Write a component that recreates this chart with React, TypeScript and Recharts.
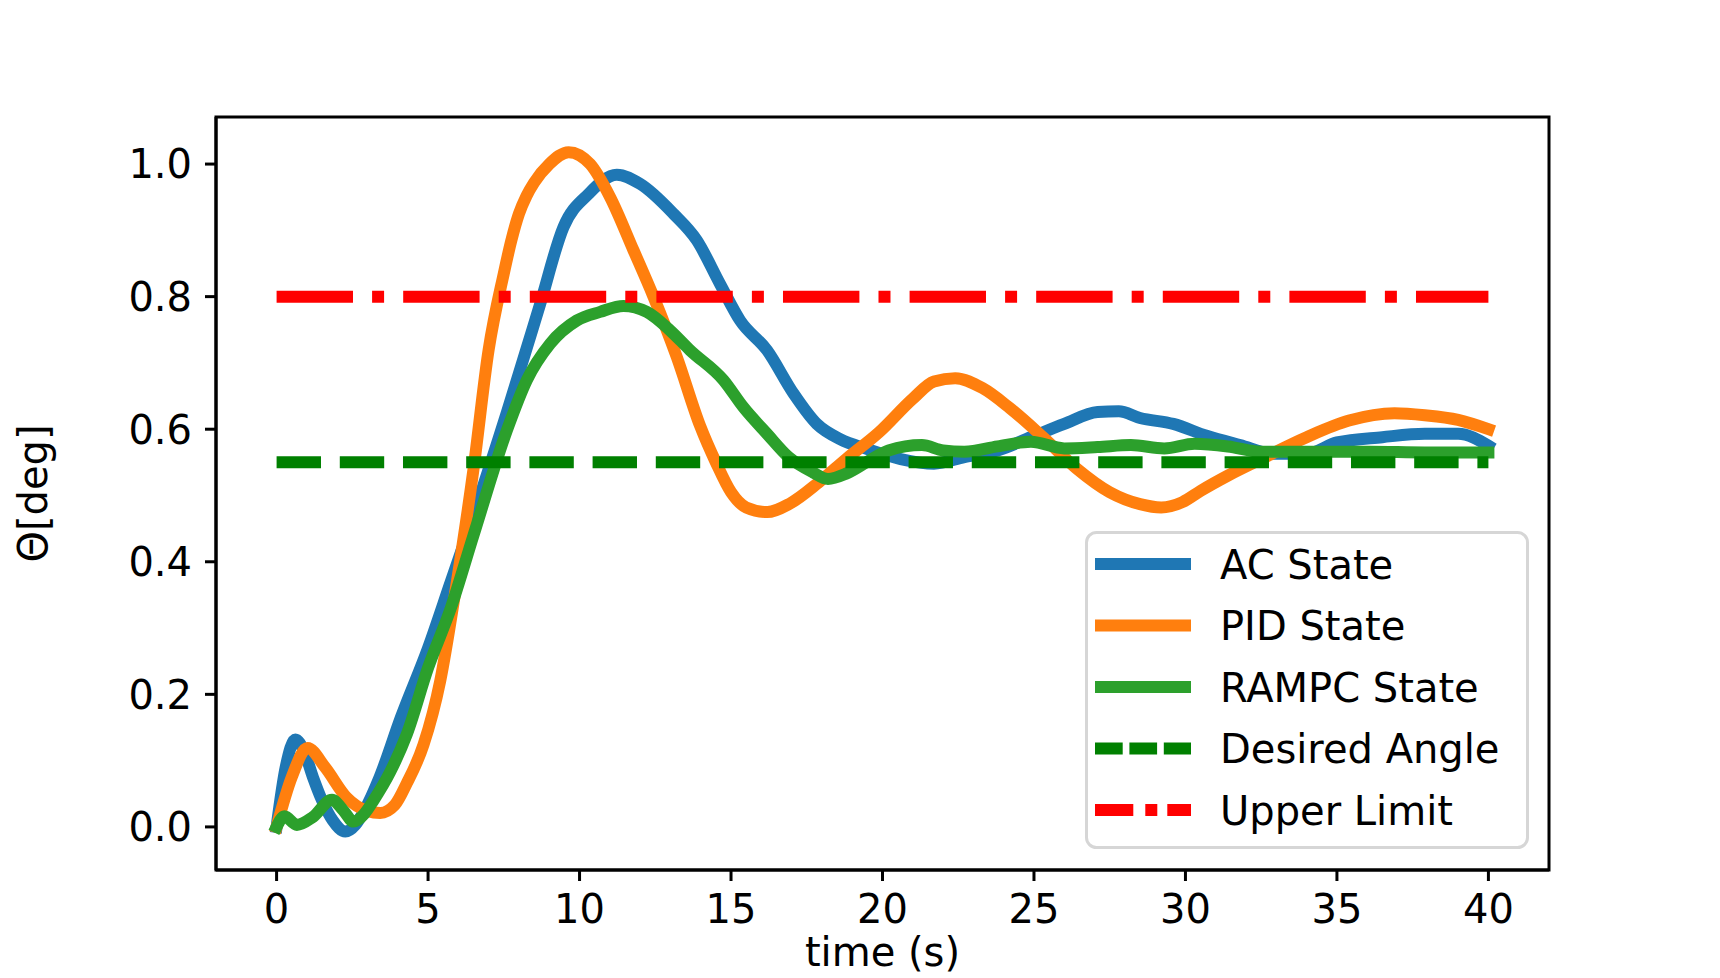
import { LineChart, Line, XAxis, YAxis, Legend, Label, ReferenceArea } from 'recharts'

// time (s) / angle readings for each controller
const AC_TIME = [0, 0.3, 0.62, 0.9, 1.2, 1.5, 1.85, 2.27, 2.6, 2.9, 3.4, 4.1, 5.0, 5.75, 6.5, 7.6, 8.7, 9.47, 10.3, 11.23, 12.0, 13.1, 13.87, 14.64, 15.3, 16.19, 17.06, 17.83, 18.6, 19.5, 20.6, 21.7, 22.7, 23.8, 24.9, 26.0, 27.1, 27.8, 28.5, 29.6, 30.7, 31.8, 32.9, 34.0, 35.0, 36.5, 37.9, 39.0, 40.0]
const AC_ANGLE = [0, 0.09, 0.132, 0.115, 0.075, 0.04, 0.01, -0.007, 0.003, 0.025, 0.075, 0.165, 0.27, 0.37, 0.47, 0.625, 0.789, 0.905, 0.955, 0.984, 0.97, 0.925, 0.885, 0.819, 0.764, 0.719, 0.654, 0.608, 0.585, 0.57, 0.555, 0.548, 0.558, 0.568, 0.588, 0.608, 0.626, 0.627, 0.617, 0.608, 0.59, 0.576, 0.563, 0.563, 0.58, 0.588, 0.593, 0.593, 0.575]

const PID_TIME = [0, 0.5, 1.02, 1.6, 2.3, 3.0, 3.42, 3.9, 4.3, 4.85, 5.4, 5.9, 6.5, 7.0, 7.5, 7.75, 8.0, 8.25, 8.5, 9.0, 9.64, 10.35, 11.01, 11.78, 12.44, 13.21, 13.98, 14.5, 15.0, 15.5, 16.2, 16.95, 17.9, 18.8, 19.9, 21.0, 21.7, 22.4, 23.3, 24.2, 25.3, 26.4, 27.5, 28.5, 29.2, 29.9, 30.5, 31.4, 32.5, 34.0, 35.4, 36.9, 37.9, 39.0, 40.0]
const PID_ANGLE = [0, 0.075, 0.119, 0.09, 0.045, 0.024, 0.021, 0.033, 0.066, 0.124, 0.22, 0.355, 0.54, 0.72, 0.835, 0.885, 0.925, 0.952, 0.972, 1.0, 1.018, 1.0, 0.95, 0.87, 0.8, 0.709, 0.605, 0.55, 0.505, 0.482, 0.475, 0.488, 0.52, 0.555, 0.596, 0.646, 0.672, 0.677, 0.662, 0.632, 0.588, 0.541, 0.505, 0.487, 0.482, 0.49, 0.507, 0.53, 0.555, 0.588, 0.613, 0.624, 0.621, 0.614, 0.6]

const RAMPC_TIME = [0, 0.26, 0.67, 1.2, 1.83, 2.2, 2.54, 2.9, 3.2, 3.75, 4.3, 5.0, 5.75, 6.5, 7.6, 8.26, 9.03, 9.91, 10.68, 11.45, 12.22, 12.99, 13.65, 14.75, 15.41, 16.19, 16.9, 17.7, 18.2, 18.8, 19.5, 20.2, 21.3, 22.0, 22.7, 23.8, 24.9, 26.0, 27.1, 28.2, 29.3, 30.3, 31.4, 32.5, 34.3, 36.1, 37.9, 40.0]
const RAMPC_ANGLE = [0, 0.016, 0.003, 0.015, 0.041, 0.025, 0.008, 0.02, 0.04, 0.083, 0.14, 0.24, 0.33, 0.44, 0.598, 0.674, 0.729, 0.764, 0.777, 0.786, 0.777, 0.749, 0.719, 0.674, 0.633, 0.593, 0.558, 0.535, 0.525, 0.533, 0.551, 0.568, 0.576, 0.568, 0.566, 0.574, 0.581, 0.571, 0.573, 0.576, 0.571, 0.578, 0.574, 0.566, 0.566, 0.566, 0.565, 0.565]

const DESIRED_ANGLE = 0.55
const UPPER_LIMIT = 0.8
const REF_SPAN = [0, 40]

const X_TICKS = [0, 5, 10, 15, 20, 25, 30, 35, 40]
const Y_TICKS = [0, 0.2, 0.4, 0.6, 0.8, 1.0]
const X_DOMAIN = [-2, 42]
const Y_DOMAIN = [-0.065, 1.071]

const LEGEND_ORDER = ['AC State', 'PID State', 'RAMPC State', 'Desired Angle', 'Upper Limit']

const FONT = 'DejaVu Sans'

const rows = (t: number[], v: number[]) => t.map((time, i) => ({ time, angle: v[i] }))
const flat = (v: number) => REF_SPAN.map((time) => ({ time, angle: v }))

// legend handles use their own (shorter) dash patterns
const LEGEND_DASH: Record<string, string | undefined> = {
  'Desired Angle': '27.7 6.7',
  'Upper Limit': '38.3 12 12 10',
}

function YTick({ x, y, payload }: any) {
  return (
    <text x={x} y={y} dy="0.36em" textAnchor="end" fontFamily={FONT} fontSize={40} fill="#000">
      {Number(payload.value).toFixed(1)}
    </text>
  )
}

function XTick({ x, y, payload }: any) {
  return (
    <text x={x} y={y} dy="0.73em" textAnchor="middle" fontFamily={FONT} fontSize={40} fill="#000">
      {payload.value}
    </text>
  )
}

function LegendBox({ payload }: any) {
  const items = [...(payload || [])].sort(
    (a: any, b: any) => LEGEND_ORDER.indexOf(a.value) - LEGEND_ORDER.indexOf(b.value)
  )
  return (
    <svg width={444} height={318} style={{ display: 'block' }}>
      <rect x={1.5} y={1.5} width={441} height={315} rx={10} fill="#fff" fillOpacity={0.8} stroke="#d6d6d6" strokeWidth={3} />
      {items.map((entry: any, i: number) => {
        const cy = 33 + i * 61.5
        return (
          <g key={entry.value}>
            <line x1={10} x2={106} y1={cy} y2={cy} stroke={entry.color} strokeWidth={12} strokeDasharray={LEGEND_DASH[entry.value]} />
            <text x={135} y={cy + 14.6} fontFamily={FONT} fontSize={40} fill="#000">
              {entry.value}
            </text>
          </g>
        )
      })}
    </svg>
  )
}

export default function App() {
  return (
    <div style={{ position: 'absolute', left: 0, top: 0, width: 1720, height: 978, background: '#fff' }}>
      <LineChart width={1720} height={978} margin={{ top: 117, right: 171, bottom: 48, left: 96 }}>
        <XAxis
          dataKey="time"
          type="number"
          domain={X_DOMAIN}
          ticks={X_TICKS}
          allowDataOverflow
          height={60}
          tickSize={11}
          tickMargin={13}
          tick={<XTick />}
          axisLine={{ stroke: '#000', strokeWidth: 3 }}
          tickLine={{ stroke: '#000', strokeWidth: 3 }}
        >
          <Label
            content={({ viewBox }: any) => (
              <text x={viewBox.x + viewBox.width / 2} y={viewBox.y + 96} textAnchor="middle" fontFamily={FONT} fontSize={40} fill="#000">
                time (s)
              </text>
            )}
          />
        </XAxis>
        <YAxis
          type="number"
          domain={Y_DOMAIN}
          ticks={Y_TICKS}
          allowDataOverflow
          width={120}
          tickSize={11}
          tickMargin={13}
          tick={<YTick />}
          axisLine={{ stroke: '#000', strokeWidth: 3 }}
          tickLine={{ stroke: '#000', strokeWidth: 3 }}
        >
          <Label
            content={({ viewBox }: any) => {
              const cx = 47
              const cy = viewBox.y + viewBox.height / 2
              return (
                <text x={cx} y={cy} transform={`rotate(-90, ${cx}, ${cy})`} textAnchor="middle" fontFamily={FONT} fontSize={40} fill="#000">
                  Θ[deg]
                </text>
              )
            }}
          />
        </YAxis>
        {/* frame: top and right spines */}
        <ReferenceArea
          x1={X_DOMAIN[0]}
          x2={X_DOMAIN[1]}
          y1={Y_DOMAIN[0]}
          y2={Y_DOMAIN[1]}
          fill="none"
          fillOpacity={0}
          stroke="#000"
          strokeWidth={3}
          ifOverflow="visible"
        />
        <Line data={rows(AC_TIME, AC_ANGLE)} dataKey="angle" name="AC State" type="monotone" stroke="#1f77b4" strokeWidth={12} strokeLinejoin="round" strokeLinecap="square" dot={false} activeDot={false} isAnimationActive={false} />
        <Line data={rows(PID_TIME, PID_ANGLE)} dataKey="angle" name="PID State" type="monotone" stroke="#ff7f0e" strokeWidth={12} strokeLinejoin="round" strokeLinecap="square" dot={false} activeDot={false} isAnimationActive={false} />
        <Line data={rows(RAMPC_TIME, RAMPC_ANGLE)} dataKey="angle" name="RAMPC State" type="monotone" stroke="#2ca02c" strokeWidth={12} strokeLinejoin="round" strokeLinecap="square" dot={false} activeDot={false} isAnimationActive={false} />
        <Line data={flat(DESIRED_ANGLE)} dataKey="angle" name="Desired Angle" type="linear" stroke="#008000" strokeWidth={12} strokeDasharray="44.4 18.8" dot={false} activeDot={false} isAnimationActive={false} />
        <Line data={flat(UPPER_LIMIT)} dataKey="angle" name="Upper Limit" type="linear" stroke="#ff0000" strokeWidth={12} strokeDasharray="76.4 19.1 12 19.1" dot={false} activeDot={false} isAnimationActive={false} />
        <Legend
          layout="vertical"
          align="center"
          verticalAlign="middle"
          content={<LegendBox />}
          wrapperStyle={{ left: 1085, top: 531, width: 444, height: 318 }}
        />
      </LineChart>
    </div>
  )
}
